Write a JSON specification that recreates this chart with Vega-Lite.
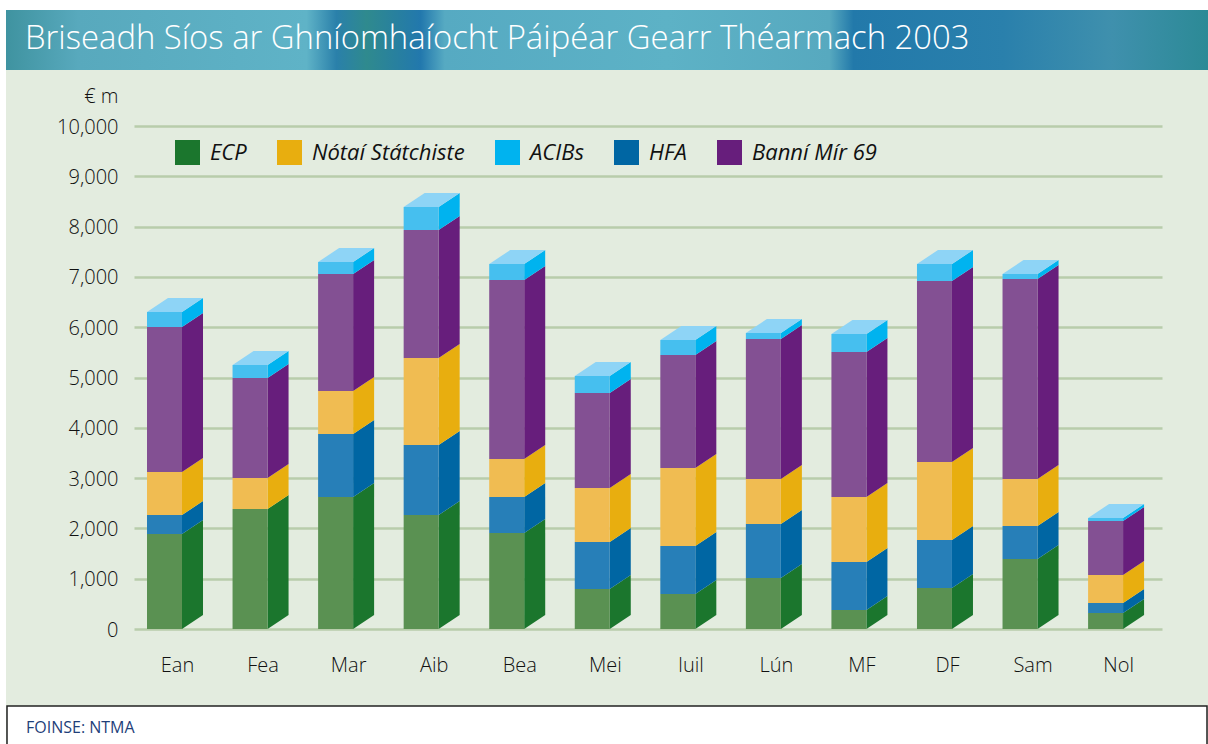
{
"$schema":"https://vega.github.io/schema/vega-lite/v6.json",
"width":1028,"height":503,
"autosize":"none",
"padding":{"left":134,"top":126,"right":46,"bottom":115},
"background":"#e3ecdf",
"config":{"view":{"stroke":null}},
"datasets":{"rows":[
{"month":"Ean","series":"ECP","value":1889},{"month":"Ean","series":"HFA","value":377},{"month":"Ean","series":"Nótaí Státchiste","value":855},{"month":"Ean","series":"Banní Mír 69","value":2883},{"month":"Ean","series":"ACIBs","value":298},
{"month":"Fea","series":"ECP","value":2386},{"month":"Fea","series":"HFA","value":0},{"month":"Fea","series":"Nótaí Státchiste","value":616},{"month":"Fea","series":"Banní Mír 69","value":1988},{"month":"Fea","series":"ACIBs","value":259},
{"month":"Mar","series":"ECP","value":2624},{"month":"Mar","series":"HFA","value":1253},{"month":"Mar","series":"Nótaí Státchiste","value":855},{"month":"Mar","series":"Banní Mír 69","value":2326},{"month":"Mar","series":"ACIBs","value":238},
{"month":"Aib","series":"ECP","value":2266},{"month":"Aib","series":"HFA","value":1392},{"month":"Aib","series":"Nótaí Státchiste","value":1730},{"month":"Aib","series":"Banní Mír 69","value":2544},{"month":"Aib","series":"ACIBs","value":458},
{"month":"Bea","series":"ECP","value":1909},{"month":"Bea","series":"HFA","value":715},{"month":"Bea","series":"Nótaí Státchiste","value":756},{"month":"Bea","series":"Banní Mír 69","value":3558},{"month":"Bea","series":"ACIBs","value":318},
{"month":"Mei","series":"ECP","value":795},{"month":"Mei","series":"HFA","value":935},{"month":"Mei","series":"Nótaí Státchiste","value":1073},{"month":"Mei","series":"Banní Mír 69","value":1889},{"month":"Mei","series":"ACIBs","value":338},
{"month":"Iuil","series":"ECP","value":696},{"month":"Iuil","series":"HFA","value":954},{"month":"Iuil","series":"Nótaí Státchiste","value":1551},{"month":"Iuil","series":"Banní Mír 69","value":2246},{"month":"Iuil","series":"ACIBs","value":299},
{"month":"Lún","series":"ECP","value":1014},{"month":"Lún","series":"HFA","value":1073},{"month":"Lún","series":"Nótaí Státchiste","value":895},{"month":"Lún","series":"Banní Mír 69","value":2783},{"month":"Lún","series":"ACIBs","value":120},
{"month":"MF","series":"ECP","value":378},{"month":"MF","series":"HFA","value":954},{"month":"MF","series":"Nótaí Státchiste","value":1292},{"month":"MF","series":"Banní Mír 69","value":2883},{"month":"MF","series":"ACIBs","value":358},
{"month":"DF","series":"ECP","value":815},{"month":"DF","series":"HFA","value":954},{"month":"DF","series":"Nótaí Státchiste","value":1551},{"month":"DF","series":"Banní Mír 69","value":3598},{"month":"DF","series":"ACIBs","value":338},
{"month":"Sam","series":"ECP","value":1392},{"month":"Sam","series":"HFA","value":656},{"month":"Sam","series":"Nótaí Státchiste","value":934},{"month":"Sam","series":"Banní Mír 69","value":3976},{"month":"Sam","series":"ACIBs","value":100},
{"month":"Nol","series":"ECP","value":318},{"month":"Nol","series":"HFA","value":199},{"month":"Nol","series":"Nótaí Státchiste","value":557},{"month":"Nol","series":"Banní Mír 69","value":1073},{"month":"Nol","series":"ACIBs","value":60}
]},
"data":{"name":"rows"},
"transform":[
{"calculate":"indexof(['Ean','Fea','Mar','Aib','Bea','Mei','Iuil','Lún','MF','DF','Sam','Nol'],datum.month)","as":"idx"},
{"calculate":"indexof(['ECP','HFA','Nótaí Státchiste','Banní Mír 69','ACIBs'],datum.series)","as":"rank"},
{"stack":"value","groupby":["month"],"sort":[{"field":"rank","order":"ascending"}],"as":["low","high"]}
],
"layer":[
{"data":{"values":[{}]},"mark":{"type":"rect","x":-134,"x2":1074,"y":-126,"y2":-116,"fill":"#ffffff"},"encoding":{}},
{"data":{"values":[{}]},"mark":{"type":"rect","x":-134,"x2":-128,"y":-126,"y2":618,"fill":"#ffffff"},"encoding":{}},
{"data":{"values":[{}]},"mark":{"type":"rect","x":-128,"x2":1074,"y":-116,"y2":-56,"fill":{"gradient":"linear","x1":0,"x2":1,"y1":0,"y2":0,"stops":[
{"offset":0,"color":"#3f93a0"},{"offset":0.06,"color":"#58a9bd"},{"offset":0.25,"color":"#5fb3c7"},{"offset":0.275,"color":"#2a80aa"},{"offset":0.30,"color":"#2f8a8e"},{"offset":0.345,"color":"#2278ad"},{"offset":0.365,"color":"#56aac2"},{"offset":0.55,"color":"#5db2c6"},{"offset":0.685,"color":"#57a9bf"},{"offset":0.705,"color":"#2279aa"},{"offset":0.83,"color":"#2a80ac"},{"offset":0.92,"color":"#3f90ad"},{"offset":1,"color":"#2c8a96"}]}},"encoding":{}},
{"data":{"values":[{}]},"mark":{"type":"text","x":-109,"y":-77,"text":"Briseadh Síos ar Ghníomhaíocht Páipéar Gearr Théarmach 2003","align":"left","baseline":"alphabetic","font":"Open Sans","fontSize":32.8,"fontWeight":300,"color":"#ffffff"},"encoding":{}},
{"data":{"values":[{}]},"mark":{"type":"rect","x":-127,"x2":1073,"y":580,"y2":640,"fill":"#ffffff","stroke":"#222222","strokeWidth":1.5},"encoding":{}},
{"data":{"values":[{}]},"mark":{"type":"text","x":-108,"y":602,"text":"FOINSE: NTMA","align":"left","baseline":"middle","font":"Open Sans","fontSize":16,"color":"#1f3f7a"},"encoding":{}},
{
"transform":[
{"calculate":"[datum.idx+0.409,datum.idx+0.6546]","as":"sx"},
{"calculate":"[0,278]","as":"off"},
{"flatten":["sx","off"]},
{"calculate":"datum.low+datum.off","as":"sl"},
{"calculate":"datum.high+datum.off","as":"sh"}
],
"mark":{"type":"area","orient":"vertical"},
"encoding":{
"x":{"field":"sx","type":"quantitative","scale":{"domain":[-0.152,11.864],"nice":false,"zero":false},"axis":{"title":null,"domain":false,"ticks":false,"grid":false,"values":[0,1,2,3,4,5,6,7,8,9,10,11],"labelExpr":"['Ean','Fea','Mar','Aib','Bea','Mei','Iuil','Lún','MF','DF','Sam','Nol'][datum.value]","labelOffset":30,"labelPadding":36,"labelFont":"Open Sans","labelFontSize":20,"labelFontWeight":300,"labelColor":"#111111","labelBaseline":"middle"}},
"y":{"field":"sl","type":"quantitative","stack":null,"scale":{"domain":[0,10000],"nice":false},"axis":{"title":"€ m","titleAngle":0,"titleX":-16,"titleY":-30,"titleAlign":"right","titleBaseline":"middle","titleFont":"Open Sans","titleFontSize":20,"titleFontWeight":300,"titleColor":"#111111","domain":false,"ticks":false,"values":[0,1000,2000,3000,4000,5000,6000,7000,8000,9000,10000],"labelExpr":"format(datum.value,',')","labelOffset":1,"grid":true,"gridColor":"#b8cdab","gridWidth":2.5,"labelPadding":16,"labelFont":"Open Sans","labelFontSize":20,"labelFontWeight":300,"labelColor":"#111111"}},
"y2":{"field":"sh"},
"detail":{"field":"month"},
"color":{"field":"series","type":"nominal","scale":{"domain":["ECP","Nótaí Státchiste","ACIBs","HFA","Banní Mír 69"],"range":["#1b762d","#e8ae0f","#00b3ef","#0066a3","#671e7c"]},"legend":{"title":null,"orient":"none","legendX":41,"legendY":14,"direction":"horizontal","columns":5,"gridAlign":"each","columnPadding":30,"symbolType":"square","symbolSize":625,"symbolStrokeWidth":0,"symbolOpacity":1,"labelFont":"Open Sans","labelFontStyle":"italic","labelFontSize":22,"labelColor":"#111111","labelOffset":10,"labelLimit":300}}
}
},
{
"mark":{"type":"rect"},
"transform":[{"calculate":"datum.idx+0.409","as":"r"}],
"encoding":{
"x":{"field":"idx","type":"quantitative"},
"x2":{"field":"r"},
"y":{"field":"low","type":"quantitative"},
"y2":{"field":"high"},
"fill":{"field":"series","type":"nominal","scale":{"domain":["ECP","Nótaí Státchiste","ACIBs","HFA","Banní Mír 69"],"range":["#5a9152","#f0bc52","#46bfef","#277fb8","#835093"]},"legend":null}
}
},
{
"transform":[
{"filter":"datum.series==='ACIBs'"},
{"calculate":"[datum.idx,datum.idx+0.2455,datum.idx+0.409,datum.idx+0.6546]","as":"tx"},
{"calculate":"[0,0,0,278]","as":"tl"},
{"calculate":"[0,278,278,278]","as":"tu"},
{"flatten":["tx","tl","tu"]},
{"calculate":"datum.high+datum.tl","as":"ylow"},
{"calculate":"datum.high+datum.tu","as":"yup"}
],
"mark":{"type":"area","orient":"vertical","fill":"#8ed4f6"},
"encoding":{
"x":{"field":"tx","type":"quantitative"},
"y":{"field":"ylow","type":"quantitative","stack":null},
"y2":{"field":"yup"},
"detail":{"field":"month"}
}
}
]
}
